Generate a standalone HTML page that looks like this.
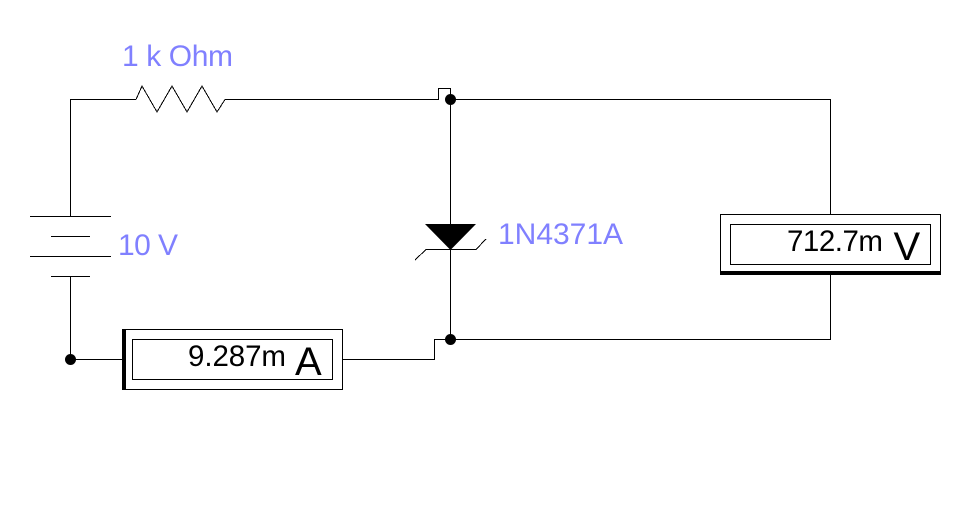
<!DOCTYPE html>
<html>
<head>
<meta charset="utf-8">
<style>
html,body{margin:0;padding:0;background:#fff;width:962px;height:506px;overflow:hidden}
svg{display:block}
text{font-family:"Liberation Sans",Arial,sans-serif}
.l{fill:#8080ff;font-size:30px}
.v{fill:#000;font-size:29.5px}
.u{fill:#000;font-size:40px}
</style>
</head>
<body>
<svg width="962" height="506" viewBox="0 0 962 506" xmlns="http://www.w3.org/2000/svg">
<rect width="962" height="506" fill="#fff"/>
<g fill="none" stroke="#000" stroke-width="1" shape-rendering="crispEdges">
<path d="M70.5 216.5V99.5H136"/>
<path d="M225 99.5H438.5V88.5H450.5V339"/>
<path d="M450.5 99.5H830.5V215"/>
<path d="M830.5 274V339.5H434.5V359.5H342"/>
<path d="M70.5 276V359.5H122"/>
<path d="M30 216.5H111M51 236.5H90M30 256.5H111M51 276.5H90"/>
<rect x="122.5" y="329.5" width="220" height="60"/>
<rect x="132.5" y="339.5" width="200" height="40"/>
<rect x="720.5" y="214.5" width="220" height="60"/>
<rect x="730.5" y="224.5" width="200" height="40"/>
<path d="M136 99.5L142 86L157 112L172 86L187 112L202 86L217 112L225 99.5"/>
<path d="M415 260L426 249.5H476L486 239"/>
</g>
<rect x="122" y="329" width="4" height="61" fill="#000"/>
<rect x="720" y="271" width="221" height="4" fill="#000"/>
<path d="M425 224H476L450.5 250Z" fill="#000"/>
<circle cx="450.5" cy="99.5" r="5.5" fill="#000"/>
<circle cx="450.5" cy="339.5" r="5.5" fill="#000"/>
<circle cx="70.5" cy="359.5" r="5.5" fill="#000"/>
<text class="l" x="122" y="66" textLength="111" lengthAdjust="spacing">1 k Ohm</text>
<text class="l" x="118" y="255" textLength="60" lengthAdjust="spacing">10 V</text>
<text class="l" x="498" y="244" textLength="125" lengthAdjust="spacing">1N4371A</text>
<text class="v" x="188" y="366" textLength="98" lengthAdjust="spacing">9.287m</text>
<text class="u" x="295" y="375">A</text>
<text class="v" x="787" y="251" textLength="96" lengthAdjust="spacing">712.7m</text>
<text class="u" x="893.5" y="260">V</text>
</svg>
</body>
</html>
